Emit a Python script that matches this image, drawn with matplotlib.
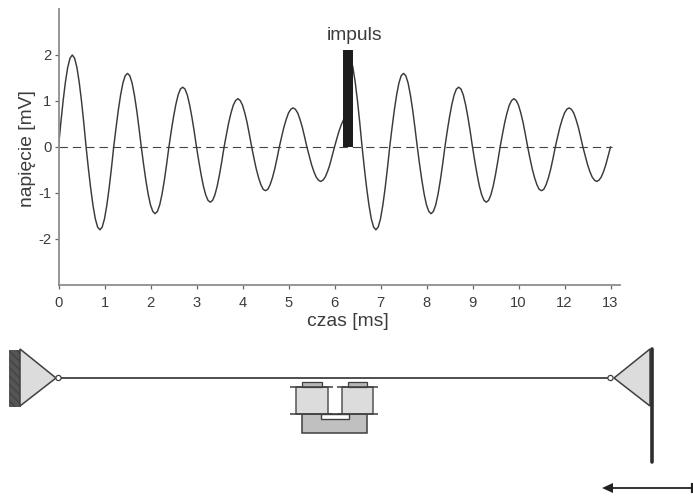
import numpy as np
import matplotlib
matplotlib.use("Agg")
import matplotlib.pyplot as plt
from matplotlib.patches import Polygon, Rectangle, Circle

plt.rcParams['font.family'] = ['Liberation Sans', 'DejaVu Sans']
plt.rcParams['axes.unicode_minus'] = False

W, H = 693, 497
STEP = 0.05

# tick positions are evenly spaced; the original axis jumps from 10 to 12
tick_labels = ['0', '1', '2', '3', '4', '5', '6', '7', '8', '9', '10', '12', '13']
y_ticks = [-2, -1, 0, 1, 2]

# trace before the impulse, sampled every STEP from position 0
before = [
    0, .52, 1.0, 1.41, 1.73, 1.93, 2.0, 1.93, 1.73, 1.41, 1.0, .52,
    0, -.47, -.9, -1.27, -1.56, -1.74, -1.8, -1.74, -1.56, -1.27, -.9, -.47,
    0, .41, .8, 1.13, 1.39, 1.55, 1.6, 1.55, 1.39, 1.13, .8, .41,
    0, -.38, -.73, -1.03, -1.26, -1.40, -1.45, -1.40, -1.26, -1.03, -.73, -.38,
    0, .34, .65, .92, 1.13, 1.26, 1.3, 1.26, 1.13, .92, .65, .34,
    0, -.31, -.6, -.85, -1.04, -1.16, -1.2, -1.16, -1.04, -.85, -.6, -.31,
    0, .27, .53, .74, .91, 1.01, 1.05, 1.01, .91, .74, .53, .27,
    0, -.25, -.48, -.67, -.82, -.92, -.95, -.92, -.82, -.67, -.48, -.25,
    0, .22, .43, .6, .74, .82, .85, .82, .74, .6, .43, .22,
    0, -.19, -.38, -.53, -.65, -.72, -.75, -.72, -.65, -.53, -.38, -.19,
    0, .18, .35, .49, .6,
]

# trace after the impulse, sampled every STEP from position 6.3
after_start = 6.3
after = [
    2.0, 1.93, 1.73, 1.41, 1.0, .52,
    0, -.47, -.9, -1.27, -1.56, -1.74, -1.8, -1.74, -1.56, -1.27, -.9, -.47,
    0, .41, .8, 1.13, 1.39, 1.55, 1.6, 1.55, 1.39, 1.13, .8, .41,
    0, -.38, -.73, -1.03, -1.26, -1.40, -1.45, -1.40, -1.26, -1.03, -.73, -.38,
    0, .34, .65, .92, 1.13, 1.26, 1.3, 1.26, 1.13, .92, .65, .34,
    0, -.31, -.6, -.85, -1.04, -1.16, -1.2, -1.16, -1.04, -.85, -.6, -.31,
    0, .27, .53, .74, .91, 1.01, 1.05, 1.01, .91, .74, .53, .27,
    0, -.25, -.48, -.67, -.82, -.92, -.95, -.92, -.82, -.67, -.48, -.25,
    0, .22, .43, .6, .74, .82, .85, .82, .74, .6, .43, .22,
    0, -.19, -.38, -.53, -.65, -.72, -.75, -.72, -.65, -.53, -.38, -.19,
    0,
]

impulse_pos = 6.3
impulse_width = 0.21
impulse_height = 2.1

AX_L, AX_R, AX_T, AX_B = 58.5, 619.5, 9.0, 285.0
TEXT = '#3c3c3c'
AXC = '#8e8e8e'
LINE = '#3a3a3a'
LABEL_SIZE = 13.9

fig = plt.figure(figsize=(W / 100, H / 100), dpi=100, facecolor='white')
ax = fig.add_axes([AX_L / W, 1 - AX_B / H, (AX_R - AX_L) / W, (AX_B - AX_T) / H])
ax.set_xlim(0, (AX_R - AX_L) / 46.0)
ax.set_ylim(-3, 3)

ax.plot([0, 12.03], [0, 0], color='#444444', lw=0.8, dashes=(7.5, 4.5), zorder=1)
ax.plot(np.arange(len(before)) * STEP, before, color=LINE, lw=1.05, zorder=2)
ax.plot(after_start + np.arange(len(after)) * STEP, after, color=LINE, lw=1.05, zorder=2)
ax.bar([impulse_pos], [impulse_height], width=impulse_width, color='#1c1c1c', zorder=3)

for s in ('top', 'right'):
    ax.spines[s].set_visible(False)
for s in ('left', 'bottom'):
    ax.spines[s].set_color(AXC)
    ax.spines[s].set_linewidth(1.3)
ax.set_xticks(range(len(tick_labels)))
ax.set_xticklabels(tick_labels)
ax.set_yticks(y_ticks)
ax.tick_params(axis='both', colors='#666666', labelcolor=TEXT, labelsize=10.6,
               length=2.6, width=0.9, pad=2.5)
ax.tick_params(axis='x', pad=5)
ax.set_xlabel('czas [ms]', fontsize=LABEL_SIZE, color=TEXT)
ax.xaxis.set_label_coords((348 - AX_L) / (AX_R - AX_L), -(313 - AX_B) / (AX_B - AX_T))
ax.set_ylabel('napięcie [mV]', fontsize=LABEL_SIZE, color=TEXT)
ax.yaxis.set_label_coords(-(58.5 - 36) / (AX_R - AX_L), (AX_B - 149) / (AX_B - AX_T))
ax.text(impulse_pos + 0.13, 2.43, 'impuls', fontsize=LABEL_SIZE, color=TEXT, ha='center', va='center')

# mechanical schematic, in pixel coordinates
dg = fig.add_axes([0, 0, 1, 1], facecolor='none')
dg.set_xlim(0, W)
dg.set_ylim(H, 0)
dg.axis('off')

ROD_Y = 378
EDGE = '#3f3f3f'
LIGHT = '#dcdcdc'
MID = '#c0c0c0'

dg.add_patch(Rectangle((9, 350), 11, 56, facecolor='#555555', edgecolor='#444444', lw=0.6,
                       hatch='\\\\\\\\'))
dg.add_patch(Polygon([(20, 349), (20, 406), (56, ROD_Y)], closed=True, facecolor=LIGHT,
                     edgecolor=EDGE, lw=1.1))
dg.add_patch(Polygon([(650, 349), (650, 406), (614, ROD_Y)], closed=True, facecolor=LIGHT,
                     edgecolor=EDGE, lw=1.1))
dg.plot([61, 607.5], [ROD_Y, ROD_Y], color='#404040', lw=1.3, solid_capstyle='butt')
for cx in (58.5, 610.5):
    dg.add_patch(Circle((cx, ROD_Y), 2.6, facecolor='white', edgecolor=EDGE, lw=0.9))
dg.plot([651.5, 651.5], [349, 462], color='#2e2e2e', lw=2.6, solid_capstyle='round')

dg.add_patch(Rectangle((302, 414), 65, 19, facecolor=MID, edgecolor=EDGE, lw=1.1))
dg.add_patch(Rectangle((321, 414), 28, 5, facecolor='white', edgecolor=EDGE, lw=1.0))
dg.add_patch(Rectangle((296, 387), 32, 27, facecolor=LIGHT, edgecolor='#555555', lw=1.1))
dg.add_patch(Rectangle((342, 387), 31, 27, facecolor=LIGHT, edgecolor='#555555', lw=1.1))
dg.add_patch(Rectangle((302, 382), 20, 5, facecolor='#b5b5b5', edgecolor=EDGE, lw=0.9))
dg.add_patch(Rectangle((348, 382), 19, 5, facecolor='#b5b5b5', edgecolor=EDGE, lw=0.9))
for y0 in (387, 414):
    dg.plot([290, 333], [y0, y0], color=EDGE, lw=1.1, solid_capstyle='butt')
    dg.plot([337, 378], [y0, y0], color=EDGE, lw=1.1, solid_capstyle='butt')

dg.plot([610, 692], [488, 488], color='#222222', lw=1.3, solid_capstyle='butt')
dg.add_patch(Polygon([(602, 488), (613, 483), (613, 493)], closed=True, facecolor='#222222',
                     edgecolor='none'))
dg.plot([692, 692], [483, 493], color='#222222', lw=1.6, solid_capstyle='butt')

fig.savefig('out.png', dpi=100, facecolor='white')
